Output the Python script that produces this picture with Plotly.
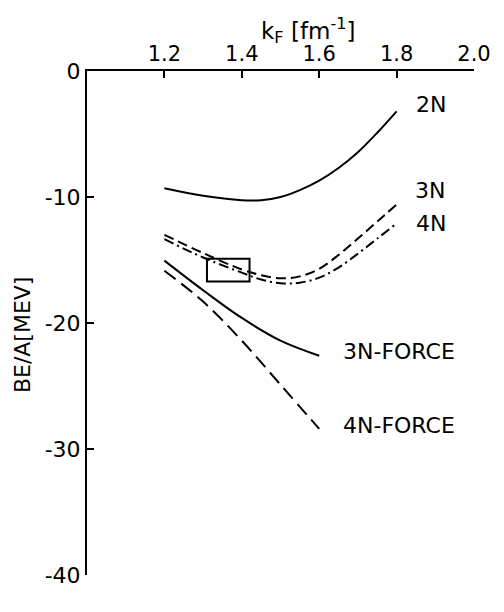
import plotly.graph_objects as go

# binding energy per nucleon vs Fermi momentum
kf_2n = [1.2, 1.3, 1.4, 1.45, 1.5, 1.55, 1.6, 1.65, 1.7, 1.75, 1.8]
be_2n = [-9.3, -9.9, -10.25, -10.25, -10.0, -9.45, -8.7, -7.7, -6.45, -4.9, -3.2]

kf_3n = [1.2, 1.3, 1.4, 1.45, 1.5, 1.55, 1.6, 1.65, 1.7, 1.75, 1.8]
be_3n = [-13.0, -14.45, -15.75, -16.2, -16.45, -16.3, -15.7, -14.6, -13.3, -11.95, -10.6]

kf_4n = [1.2, 1.3, 1.4, 1.45, 1.5, 1.55, 1.6, 1.65, 1.7, 1.75, 1.8]
be_4n = [-13.35, -14.8, -16.0, -16.55, -16.85, -16.8, -16.4, -15.6, -14.5, -13.3, -12.1]

kf_3nf = [1.2, 1.3, 1.4, 1.5, 1.6]
be_3nf = [-15.05, -17.4, -19.6, -21.4, -22.6]

kf_4nf = [1.2, 1.3, 1.4, 1.5, 1.6]
be_4nf = [-15.85, -18.3, -21.4, -24.9, -28.4]

# empirical saturation box
box_kf = [1.31, 1.42]
box_be = [-14.9, -16.7]

x_ticks = [1.2, 1.4, 1.6, 1.8, 2.0]
x_labels = ["1.2", "1.4", "1.6", "1.8", "2.0"]
y_ticks = [0, -10, -20, -30, -40]
y_labels = ["0", "-10", "-20", "-30", "-40"]

FONT = "DejaVu Sans, sans-serif"

fig = go.Figure()

def curve(x, y, dash):
    fig.add_trace(go.Scatter(x=x, y=y, mode="lines", showlegend=False,
                             line=dict(color="black", width=2, dash=dash,
                                       shape="spline", smoothing=1.0)))

curve(kf_2n, be_2n, "solid")
curve(kf_3n, be_3n, "10px,5px")
curve(kf_4n, be_4n, "10px,4px,2px,4px")
curve(kf_3nf, be_3nf, "solid")
curve(kf_4nf, be_4nf, "14px,7px")

fig.add_shape(type="rect", x0=box_kf[0], x1=box_kf[1], y0=box_be[0], y1=box_be[1],
              line=dict(color="black", width=2))

labels = [("2N", 1.845, -2.66), ("3N", 1.843, -9.48), ("4N", 1.845, -12.1),
          ("3N-FORCE", 1.656, -22.26), ("4N-FORCE", 1.656, -28.1)]
for txt, lx, ly in labels:
    fig.add_annotation(x=lx, y=ly, text=txt, showarrow=False, xanchor="left",
                       yanchor="middle", font=dict(family=FONT, size=22, color="black"))

# axis titles
fig.add_annotation(x=1.571, y=1.081, xref="x", yref="paper", xanchor="center",
                   yanchor="middle", text="k<sub>F</sub> [fm<sup>-1</sup>]",
                   showarrow=False, font=dict(family=FONT, size=23, color="black"))
fig.add_annotation(x=-0.166, y=-20.9, xref="paper", yref="y", xanchor="center",
                   yanchor="middle", text="BE/A[MEV]", textangle=-90, showarrow=False,
                   font=dict(family=FONT, size=22, color="black"))

fig.update_xaxes(range=[1.0, 2.0], side="top", showline=True, linecolor="black",
                 linewidth=2, ticks="inside", ticklen=7, tickwidth=2, tickcolor="black",
                 tickvals=x_ticks, ticktext=x_labels, showgrid=False, zeroline=False,
                 automargin=False, tickfont=dict(family=FONT, size=21, color="black"))
fig.update_yaxes(range=[-40, 0], showline=True, linecolor="black", linewidth=2,
                 ticks="inside", ticklen=7, tickwidth=2, tickcolor="black",
                 tickvals=y_ticks, ticktext=y_labels, showgrid=False, zeroline=False,
                 automargin=False, tickfont=dict(family=FONT, size=22, color="black"))

# page body adds an 8px offset, so the figure is drawn 8px smaller
fig.update_layout(width=496, height=604, plot_bgcolor="white", paper_bgcolor="white",
                  margin=dict(l=79, r=30, t=63, b=37))

fig.write_html("out.html")
